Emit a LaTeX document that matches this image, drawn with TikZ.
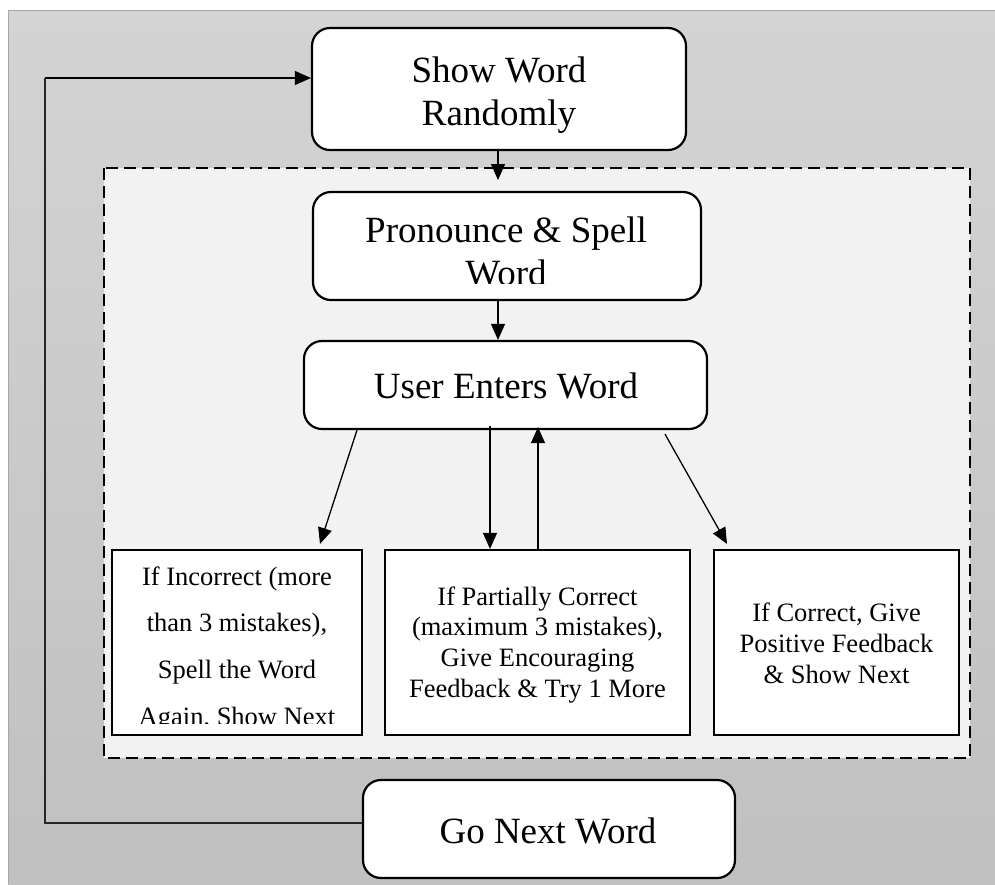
\documentclass[tikz,border=0pt]{standalone}
\usepackage{fontspec}
\setmainfont{Liberation Serif}
\usetikzlibrary{arrows.meta}
\definecolor{bgtop}{HTML}{D4D4D4}
\definecolor{bgbot}{HTML}{C0C0C0}
\definecolor{regionfill}{HTML}{F2F2F2}
\definecolor{edgegray}{HTML}{A6A6A6}
\tikzset{
 roundbox/.style={draw=black, fill=white, line width=2.2pt, rounded corners=18pt, inner sep=0pt},
 sqbox/.style={draw=black, fill=white, line width=2.2pt, inner sep=0pt},
 bigtxt/.style={font=\fontsize{37}{43}\selectfont, anchor=base, inner sep=0pt},
 smalltxt/.style={font=\fontsize{26.5}{31}\selectfont, anchor=base, inner sep=0pt},
 arr/.style={line width=1.3pt, -{Triangle[length=16pt,width=14pt]}},
 loopline/.style={line width=1.1pt, draw=black!85},
 region/.style={draw=black, fill=regionfill, line width=1.8pt, dash pattern=on 12pt off 6pt}
}
\begin{document}
\begin{tikzpicture}[x=1pt,y=-1pt]
\useasboundingbox (0,0) rectangle (995,884);
\shade[top color=bgtop, bottom color=bgbot] (8,10) rectangle (995,884);
\draw[edgegray, line width=1pt] (8,884) -- (8,10) -- (995,10);
\draw[region] (104,168) rectangle (970,758);

% boxes
\node[roundbox, minimum width=374pt, minimum height=122pt] (show) at (499,89) {};
\node[roundbox, minimum width=388pt, minimum height=108pt] (pron) at (507,246) {};
\node[roundbox, minimum width=403pt, minimum height=88pt] (user) at (505.5,385) {};
\node[sqbox, minimum width=250pt, minimum height=185pt] (left) at (237,642.5) {};
\node[sqbox, minimum width=305pt, minimum height=185pt] (mid) at (537.5,642.5) {};
\node[sqbox, minimum width=245pt, minimum height=185pt] (right) at (836.5,642.5) {};
\node[roundbox, minimum width=372pt, minimum height=98pt] (go) at (549,829) {};

% texts
\node[bigtxt] (s1) at (499,82) {Show Word};
\node[bigtxt] (s2) at (499,125) {Randomly};
\begin{scope}
\clip (313,192) rectangle (701,283);
\node[bigtxt] (p1) at (506,242) {Pronounce \& Spell};
\node[bigtxt] (p2) at (506,285) {Word};
\end{scope}
\node[bigtxt] (u1) at (506,398) {User Enters Word};
\node[bigtxt] (g1) at (548,843) {Go Next Word};

\begin{scope}
\clip (112,550) rectangle (362,723);
\node[smalltxt] (l1) at (237,585) {If Incorrect (more};
\node[smalltxt] (l2) at (237,631) {than 3 mistakes),};
\node[smalltxt] (l3) at (237,678) {Spell the Word};
\node[smalltxt] (l4) at (237,725) {Again, Show Next};
\end{scope}

\node[smalltxt] (m1) at (537.5,605) {If Partially Correct};
\node[smalltxt] (m2) at (537.5,635.7) {(maximum 3 mistakes),};
\node[smalltxt] (m3) at (537.5,666.3) {Give Encouraging};
\node[smalltxt] (m4) at (537.5,697) {Feedback \& Try 1 More};

\node[smalltxt] (r1) at (836.5,621) {If Correct, Give};
\node[smalltxt] (r2) at (836.5,652) {Positive Feedback};
\node[smalltxt] (r3) at (836.5,683) {\& Show Next};

% connectors
\coordinate (c1) at (498,180);
\draw[arr] ([xshift=-1pt]show.south) -- (c1);
\draw[arr] ([xshift=-9pt]pron.south) -- ([xshift=-7.5pt]user.north);
\draw[arr] ([xshift=-148.5pt]user.south) -- ([xshift=83pt,yshift=5pt]left.north);
\draw[arr] ([xshift=-15.5pt,yshift=4pt]user.south) -- ([xshift=-47.5pt]mid.north);
\draw[arr] ([xshift=0.5pt]mid.north) -- ([xshift=32.5pt,yshift=3pt]user.south);
\draw[arr] ([xshift=159.5pt,yshift=-4pt]user.south) -- ([xshift=-109.5pt,yshift=5pt]right.north);

\coordinate (lb) at (45,823);
\coordinate (lt) at (45,78);
\draw[loopline] ([yshift=6pt]go.west) -- (lb) -- (lt);
\draw[loopline, -{Triangle[length=16pt,width=14pt]}, black] (lt) -- ([yshift=11pt]show.west);
\end{tikzpicture}
\end{document}
